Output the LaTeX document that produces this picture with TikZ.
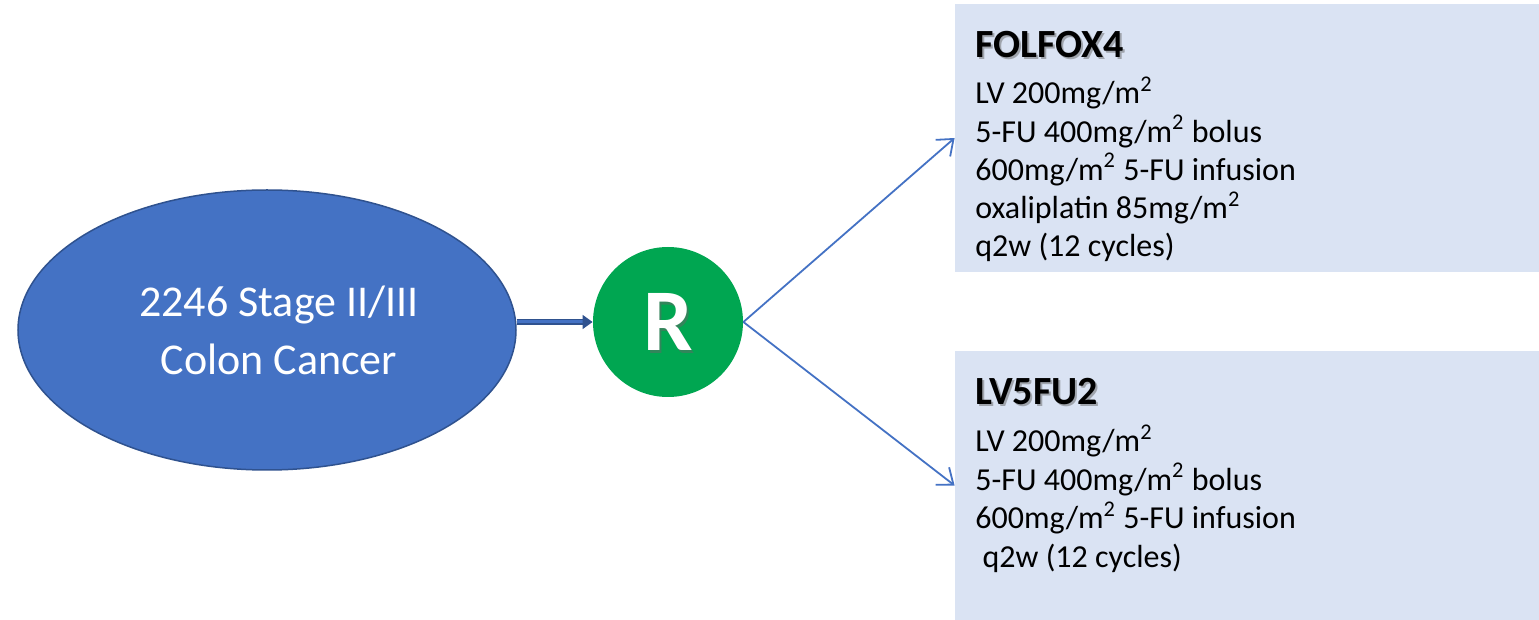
\documentclass[tikz,border=0pt]{standalone}
\usepackage{fontspec}
\setmainfont{Carlito}
\usetikzlibrary{shapes.geometric,arrows.meta,positioning}
\definecolor{ovalblue}{HTML}{4472C4}
\definecolor{ovaledge}{HTML}{2F528F}
\definecolor{randgreen}{HTML}{00A651}
\definecolor{armfill}{HTML}{DAE3F3}
\newcommand{\msq}{m\textsuperscript{2}}
\begin{document}
\begin{tikzpicture}[x=0.5pt,y=-0.5pt,
	arm/.style={fill=armfill,minimum width=292pt,minimum height=134pt,inner sep=0pt},
	armtitle/.style={anchor=base west,inner sep=0pt,font=\fontsize{20}{24}\selectfont\bfseries},
	dose/.style={anchor=base west,inner sep=0pt,font=\fontsize{16}{19}\selectfont},
	arm arrow/.style={ovalblue,line width=0.9pt,-{Straight Barb[length=7pt,width=11pt]}}]
	\useasboundingbox (0,0) rectangle (1539,620);
	\node[ellipse,fill=ovalblue,draw=ovaledge,line width=0.75pt,minimum width=249pt,minimum height=140pt,
		text=white,align=center,font=\fontsize{22}{29}\selectfont] (pop) at (267,330) {\hspace*{12pt}2246 Stage II/III\\\hspace*{12pt}Colon Cancer};
	\node[circle,fill=randgreen,minimum size=75pt,inner sep=0pt] (rand) at (668,322) {};
	\node[text=black!60,opacity=0.5,font=\fontsize{44}{46}\selectfont\bfseries] at (670,325) {R};
	\node[text=white,font=\fontsize{44}{46}\selectfont\bfseries] at (rand) {R};
	\draw[draw=ovaledge,double=ovalblue,double distance=1.5pt,line width=0.6pt,-{Triangle[length=5pt,width=7pt]}]
		(pop.east |- rand) -- (rand.west);
	%
	\node[arm] (folfox) at (1247,138) {};
	\node[arm] (lvfu) at (1247,485.5) {};
	\draw[arm arrow] (rand.east) -- (folfox.west);
	\draw[arm arrow] (rand.east) -- (lvfu.west);
	%
	\node[armtitle,text=black!60,opacity=0.5] at (977,60) {FOLFOX4};
	\node[armtitle] (folfoxname) at (975,58) {FOLFOX4};
	\foreach \dosetxt [count=\i] in {LV 200mg/\msq, 5-FU 400mg/\msq{} bolus, 600mg/\msq{} 5-FU infusion,
		oxaliplatin 85mg/\msq, q2w (12 cycles)}
		\node[dose] (folfoxdose\i) at (975,{104+38.2*(\i-1)}) {\dosetxt};
	%
	\node[armtitle,text=black!60,opacity=0.5] at (977,407) {LV5FU2};
	\node[armtitle] (lvfuname) at (975,405) {LV5FU2};
	\foreach \dosetxt [count=\i] in {LV 200mg/\msq, 5-FU 400mg/\msq{} bolus, 600mg/\msq{} 5-FU infusion,
		\ q2w (12 cycles)}
		\node[dose] (lvfudose\i) at (975,{452+38.5*(\i-1)}) {\dosetxt};
\end{tikzpicture}
\end{document}
